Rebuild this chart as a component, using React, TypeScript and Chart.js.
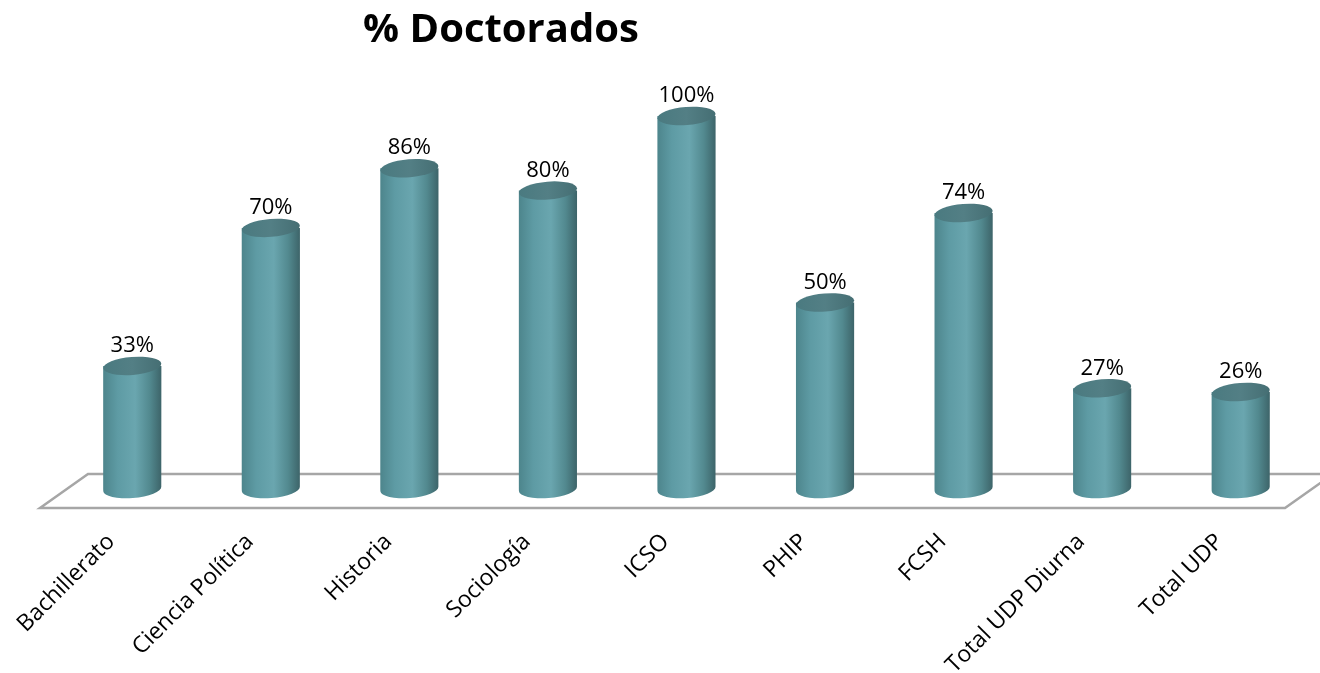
import React, { useEffect, useRef } from "react";
import { Chart, registerables } from "chart.js";

Chart.register(...registerables);

const categories = [
  "Bachillerato",
  "Ciencia Política",
  "Historia",
  "Sociología",
  "ICSO",
  "PHIP",
  "FCSH",
  "Total UDP Diurna",
  "Total UDP",
];
const values = [33, 70, 86, 80, 100, 50, 74, 27, 26];
const valueLabels = ["33%", "70%", "86%", "80%", "100%", "50%", "74%", "27%", "26%"];
const chartTitle = "% Doctorados";

const FONT = "'Open Sans', 'DejaVu Sans', sans-serif";

const cylinderPlugin = {
  id: "cylinders",
  beforeDatasetsDraw(chart: any) {
    const { ctx, chartArea } = chart;
    const y = chart.scales.y;
    const base = y.getPixelForValue(0);
    const backY = base - 15;
    const frontY = base + 19;

    ctx.save();
    ctx.strokeStyle = "#a6a6a6";
    ctx.lineWidth = 2.5;
    ctx.lineJoin = "miter";
    ctx.beginPath();
    ctx.moveTo(chartArea.right + 40, backY);
    ctx.lineTo(chartArea.left + 25, backY);
    ctx.lineTo(chartArea.left - 23, frontY);
    ctx.lineTo(chartArea.right - 25, frontY);
    ctx.lineTo(chartArea.right - 25 + 48, frontY - 34);
    ctx.stroke();
    ctx.restore();

    // title
    ctx.save();
    ctx.fillStyle = "#000";
    ctx.font = `bold 40px ${FONT}`;
    ctx.textAlign = "center";
    ctx.textBaseline = "middle";
    ctx.fillText(chartTitle, 501, 31);
    ctx.restore();
  },
  afterDatasetsDraw(chart: any) {
    const { ctx } = chart;
    const meta = chart.getDatasetMeta(0);
    const xs = chart.scales.x;
    const base = chart.scales.y.getPixelForValue(0);
    const ry = 9;
    const tilt = -0.08;
    meta.data.forEach((bar: any, i: number) => {
      const cx = bar.x;
      const top = bar.y;
      const w = bar.width;
      const l = cx - w / 2;
      const r = cx + w / 2;
      const g = ctx.createLinearGradient(l, 0, r, 0);
      g.addColorStop(0, "#4d858c");
      g.addColorStop(0.25, "#5e9ba4");
      g.addColorStop(0.55, "#6aa6af");
      g.addColorStop(0.8, "#52898f");
      g.addColorStop(1, "#3d6469");
      ctx.save();
      ctx.fillStyle = g;
      ctx.beginPath();
      ctx.moveTo(l, top);
      ctx.lineTo(l, bar.base);
      ctx.ellipse(cx, bar.base, w / 2, ry, tilt, Math.PI, 0, true);
      ctx.lineTo(r, top);
      ctx.closePath();
      ctx.fill();

      const gc = ctx.createLinearGradient(l, 0, r, 0);
      gc.addColorStop(0, "#4a7a80");
      gc.addColorStop(0.5, "#537f85");
      gc.addColorStop(1, "#456e73");
      ctx.fillStyle = gc;
      ctx.beginPath();
      ctx.ellipse(cx, top, w / 2, ry, tilt, 0, Math.PI * 2);
      ctx.fill();
      ctx.restore();

      // value label
      ctx.save();
      ctx.fillStyle = "#000";
      ctx.font = `22px ${FONT}`;
      ctx.textAlign = "center";
      ctx.textBaseline = "middle";
      ctx.fillText(valueLabels[i], cx, top - 20);
      ctx.restore();
    });

    // category labels
    categories.forEach((cat, i) => {
      const px = xs.getPixelForValue(i);
      ctx.save();
      ctx.translate(px - 21, base + 49);
      ctx.rotate(-Math.PI / 4);
      ctx.fillStyle = "#000";
      ctx.font = `23px ${FONT}`;
      ctx.textAlign = "right";
      ctx.textBaseline = "middle";
      ctx.fillText(cat, 0, 0);
      ctx.restore();
    });
  },
};

export default function App() {
  const canvasRef = useRef<HTMLCanvasElement | null>(null);

  useEffect(() => {
    document.body.style.margin = "0";
    const canvas = canvasRef.current;
    if (!canvas) return;
    const chart = new Chart(canvas, {
      type: "bar",
      data: {
        labels: categories,
        datasets: [
          {
            data: values,
            backgroundColor: "rgba(0,0,0,0)",
            borderWidth: 0,
            barPercentage: 0.42,
            categoryPercentage: 1,
          },
        ],
      },
      options: {
        animation: false,
        responsive: false,
        maintainAspectRatio: false,
        layout: { padding: { left: 63, right: 10, top: 116, bottom: 184 } },
        plugins: {
          legend: { display: false },
          title: { display: false },
          tooltip: { enabled: false },
        },
        scales: {
          x: { display: false },
          y: { display: false, min: 0, max: 100 },
        },
      },
      plugins: [cylinderPlugin],
    });
    return () => chart.destroy();
  }, []);

  return (
    <div style={{ width: 1320, height: 673, background: "#fff" }}>
      <canvas ref={canvasRef} width={1320} height={673} style={{ display: "block" }} />
    </div>
  );
}
